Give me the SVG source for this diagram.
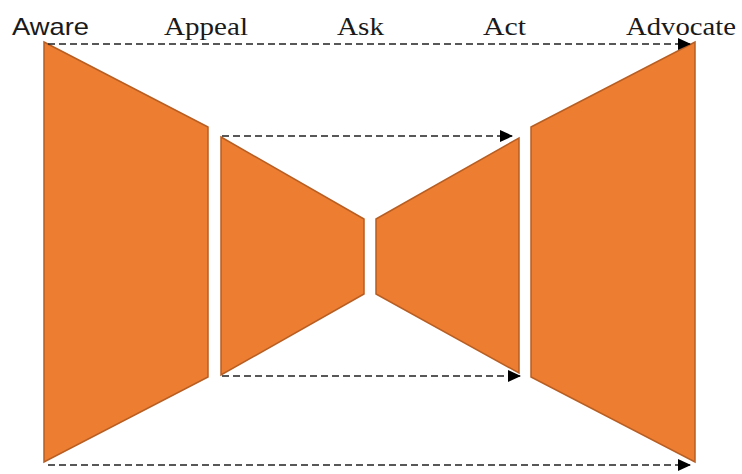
<svg xmlns="http://www.w3.org/2000/svg" width="742" height="474" viewBox="0 0 742 474">
<style>
.stage{fill:#ED7D31;stroke:#B85E22;stroke-width:1.5;stroke-linejoin:miter}
.lbl{font-family:"Liberation Serif","Times New Roman",serif;font-size:26px;fill:#1a1a1a}
.lbls{font-family:"Liberation Sans",Arial,sans-serif;font-size:24px;fill:#1a1a1a}
.flow{stroke:#222;stroke-width:1.6;stroke-dasharray:7,4;fill:none}
</style>
<defs>
<marker id="ah" markerWidth="13" markerHeight="12" refX="12" refY="6" orient="auto" markerUnits="userSpaceOnUse">
<path d="M0,0 L13,6 L0,12 Z" fill="#000"/>
</marker>
</defs>
<rect width="742" height="474" fill="#fff"/>
<g id="labels">
<text class="lbls" x="12" y="35" textLength="77" lengthAdjust="spacingAndGlyphs">Aware</text>
<text class="lbl" x="164" y="35" textLength="84" lengthAdjust="spacingAndGlyphs">Appeal</text>
<text class="lbl" x="337" y="35" textLength="47" lengthAdjust="spacingAndGlyphs">Ask</text>
<text class="lbl" x="483" y="35" textLength="43" lengthAdjust="spacingAndGlyphs">Act</text>
<text class="lbl" x="626" y="35" textLength="110" lengthAdjust="spacingAndGlyphs">Advocate</text>
</g>
<g id="aware"><polygon class="stage" points="44,42 208,127 208,377 44,462"/></g>
<g id="appeal"><polygon class="stage" points="221,137 364,219 364,294 221,375"/></g>
<g id="act"><polygon class="stage" points="376,219 519,138 519,373 376,294"/></g>
<g id="advocate"><polygon class="stage" points="531,127 695,42 695,462 531,377"/></g>
<g id="connectors">
<line class="flow" x1="48" y1="44" x2="690" y2="44" marker-end="url(#ah)"/>
<line class="flow" x1="222" y1="136" x2="512" y2="136" marker-end="url(#ah)"/>
<line class="flow" x1="222" y1="376" x2="520" y2="376" marker-end="url(#ah)"/>
<line class="flow" x1="48" y1="465" x2="690" y2="465" marker-end="url(#ah)"/>
</g>
</svg>
